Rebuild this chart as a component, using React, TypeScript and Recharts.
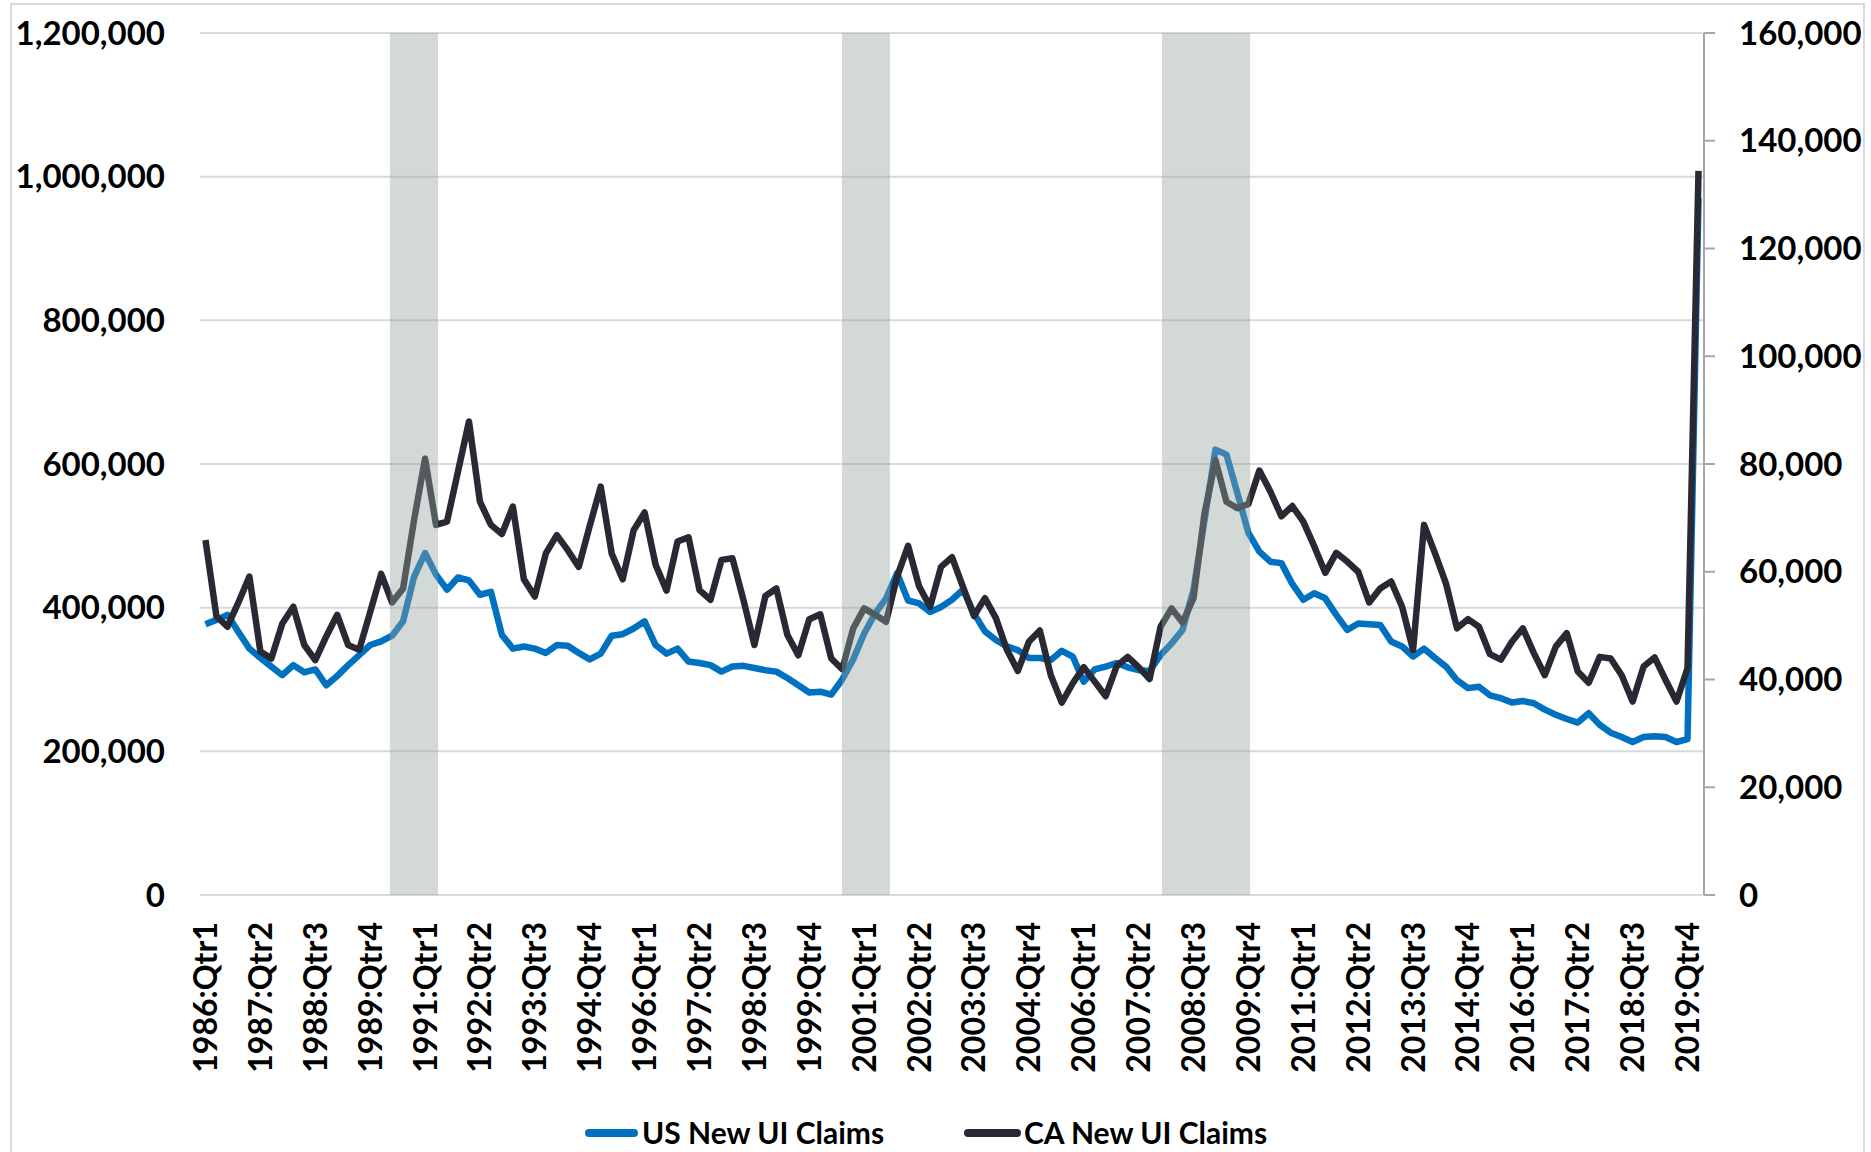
import React from 'react';
import { LineChart, Line, XAxis, YAxis, CartesianGrid, ReferenceArea } from 'recharts';

// Quarterly new UI claims, 1986:Qtr1 .. 2020:Qtr1
const usClaims = [
  377000, 383000, 390000, 366000, 343000, 330000, 318000, 306000, 320000, 310000,
  314000, 292000, 305000, 320000, 334000, 348000, 353000, 361000, 381000, 443000,
  476000, 446000, 425000, 442000, 438000, 418000, 422000, 362000, 343000, 346000,
  343000, 337000, 348000, 347000, 337000, 328000, 336000, 361000, 363000, 371000,
  381000, 348000, 336000, 343000, 325000, 323000, 320000, 311000, 318000, 319000,
  316000, 313000, 311000, 302000, 292000, 282000, 283000, 279000, 300000, 328000,
  364000, 392000, 413000, 448000, 410000, 406000, 394000, 401000, 411000, 425000,
  392000, 367000, 355000, 346000, 341000, 330000, 330000, 327000, 340000, 332000,
  297000, 314000, 318000, 323000, 317000, 313000, 312000, 334000, 350000, 369000,
  425000, 522000, 620000, 613000, 559000, 504000, 478000, 464000, 462000, 433000,
  411000, 420000, 413000, 390000, 369000, 378000, 377000, 376000, 353000, 346000,
  332000, 343000, 330000, 318000, 299000, 288000, 290000, 278000, 274000, 268000,
  270000, 267000, 258000, 251000, 245000, 240000, 253000, 237000, 226000, 220000,
  213000, 220000, 221000, 220000, 213000, 217000, 970000,
];

const caClaims = [
  65900, 51700, 49800, 54300, 59100, 45200, 43900, 50400, 53500, 46400,
  43600, 48000, 52000, 46400, 45500, 52500, 59600, 54300, 56900, 69600,
  81000, 68700, 69300, 78600, 87900, 73000, 68700, 67000, 72100, 58600,
  55400, 63400, 66800, 64000, 60900, 68500, 75800, 63400, 58600, 67700,
  71000, 61300, 56500, 65600, 66400, 56600, 54800, 62200, 62500, 54800,
  46400, 55500, 56900, 48300, 44500, 51200, 52100, 43900, 41900, 49500,
  53200, 52000, 50700, 59100, 64800, 57300, 53500, 60900, 62700, 57200,
  51800, 55100, 51400, 45500, 41600, 47000, 49100, 40800, 35700, 39300,
  42300, 39600, 36900, 42500, 44200, 42300, 40100, 49800, 53200, 50600,
  55100, 70800, 80700, 73000, 71800, 72600, 78800, 74900, 70300, 72200,
  69300, 64700, 59800, 63500, 61900, 60000, 54300, 56900, 58200, 53500,
  45500, 68700, 63400, 57800, 49500, 51200, 49800, 44700, 43700, 47000,
  49500, 44900, 40800, 46100, 48600, 41500, 39400, 44200, 43900, 40800,
  35900, 42400, 44100, 39900, 35900, 42100, 134400,
];

const firstYear = 1986;
const leftTicks = [0, 200000, 400000, 600000, 800000, 1000000, 1200000];
const rightTicks = [0, 20000, 40000, 60000, 80000, 100000, 120000, 140000, 160000];

// Recession shading, in quarter positions (0 = 1986:Qtr1)
const recessionStart = [16.8, 57.98, 87.13];
const recessionEnd = [21.18, 62.35, 95.15];

const quarters = usClaims.map((_, i) => `${firstYear + Math.floor(i / 4)}:Qtr${(i % 4) + 1}`);
const data = quarters.map((q, i) => ({ q, idx: i, us: usClaims[i], ca: caClaims[i] }));

const FONT = 'Lato, "Open Sans", sans-serif';
const BLUE = '#0070C0';
const DARK = '#292933';

const W = 1871;
const H = 1152;
const PLOT_LEFT = 200;
const PLOT_RIGHT = 1704;
const PLOT_TOP = 33;
const PLOT_BOTTOM = 895;
const N = usClaims.length;
const step = (PLOT_RIGHT - PLOT_LEFT) / N;

const fmt = (v: number) => v.toLocaleString('en-US');

const XTick = (props: any) => {
  const { x, y, payload } = props;
  return (
    <text
      x={x}
      y={y}
      transform={`rotate(-90, ${x}, ${y})`}
      textAnchor="end"
      dy="0.36em"
      fontFamily={FONT}
      fontWeight={700}
      fontSize={32}
      fill="#000"
    >
      {payload.value}
    </text>
  );
};

const tickStyle = { fontFamily: FONT, fontWeight: 700, fontSize: 33, fill: '#000' };

const legendText: React.CSSProperties = {
  position: 'absolute',
  top: 1117,
  height: 30,
  lineHeight: '30px',
  fontFamily: FONT,
  fontWeight: 700,
  fontSize: 30,
  color: '#000',
  whiteSpace: 'nowrap',
};

export default function App() {
  const xAxisHeight = 200;
  return (
    <div style={{ position: 'absolute', left: 0, top: 0, width: W, height: H, background: '#fff', overflow: 'hidden' }}>
      <div
        style={{
          position: 'absolute',
          left: 10,
          top: 3,
          width: 1855,
          height: 1200,
          border: '2px solid #d9d9d9',
          boxSizing: 'border-box',
        }}
      />
      <div style={{ position: 'absolute', left: 0, top: 0 }}>
        <LineChart
          width={W}
          height={H}
          data={data}
          margin={{ top: PLOT_TOP, left: 0, right: 0, bottom: H - PLOT_BOTTOM - xAxisHeight }}
        >
          <CartesianGrid
            horizontal
            vertical={false}
            stroke="#d9d9d9"
            strokeWidth={2}
            yAxisId="left"
            xAxisId="main"
          />
          <XAxis
            xAxisId="main"
            dataKey="q"
            type="category"
            interval={4}
            height={xAxisHeight}
            axisLine={false}
            tickLine={false}
            tickSize={0}
            tickMargin={27}
            padding={{ left: step / 2, right: step / 2 }}
            tick={<XTick />}
          />
          <XAxis
            xAxisId="rec"
            dataKey="idx"
            type="number"
            domain={[0, N - 1]}
            padding={{ left: step / 2, right: step / 2 }}
            hide
            allowDataOverflow
          />
          <YAxis
            yAxisId="left"
            orientation="left"
            width={PLOT_LEFT}
            domain={[0, 1200000]}
            ticks={leftTicks}
            interval={0}
            axisLine={false}
            tickLine={false}
            tickSize={0}
            tickMargin={35}
            tickFormatter={fmt}
            tick={tickStyle}
          />
          <YAxis
            yAxisId="right"
            orientation="right"
            width={W - PLOT_RIGHT}
            domain={[0, 160000]}
            ticks={rightTicks}
            interval={0}
            axisLine={{ stroke: '#a6a6a6', strokeWidth: 2 }}
            tickLine={{ stroke: '#a6a6a6', strokeWidth: 2 }}
            tickSize={11}
            tickMargin={24}
            tickFormatter={fmt}
            tick={tickStyle}
          />
          <Line
            xAxisId="main"
            yAxisId="left"
            dataKey="us"
            name="US New UI Claims"
            stroke={BLUE}
            strokeWidth={6.5}
            strokeLinejoin="round"
            dot={false}
            activeDot={false}
            isAnimationActive={false}
          />
          <Line
            xAxisId="main"
            yAxisId="right"
            dataKey="ca"
            name="CA New UI Claims"
            stroke={DARK}
            strokeWidth={6.5}
            strokeLinejoin="round"
            dot={false}
            activeDot={false}
            isAnimationActive={false}
          />
          {recessionStart.map((s, i) => (
            <ReferenceArea
              key={i}
              xAxisId="rec"
              yAxisId="left"
              x1={s}
              x2={recessionEnd[i]}
              fill="rgb(146,163,156)"
              fillOpacity={0.41}
              stroke="none"
              ifOverflow="extendDomain"
              {...({ zIndex: 1000 } as any)}
            />
          ))}
        </LineChart>
      </div>
      {/* Legend */}
      <div style={{ position: 'absolute', left: 585, top: 1129, width: 53, height: 8, borderRadius: 4, background: BLUE }} />
      <div style={{ ...legendText, left: 642 }}>US New UI Claims</div>
      <div style={{ position: 'absolute', left: 964, top: 1129, width: 57, height: 8, borderRadius: 4, background: DARK }} />
      <div style={{ ...legendText, left: 1024 }}>CA New UI Claims</div>
    </div>
  );
}
